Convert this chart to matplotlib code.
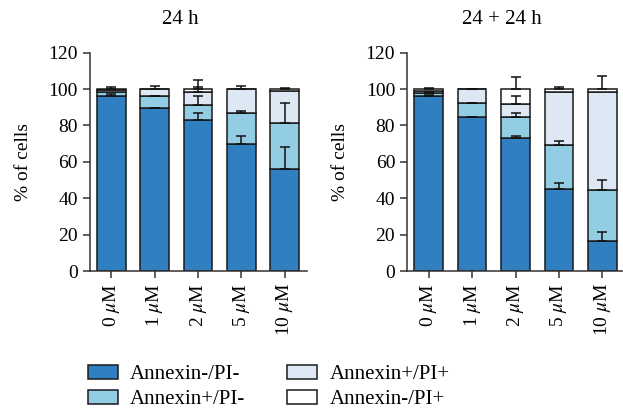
import matplotlib
matplotlib.use("Agg")
import matplotlib.pyplot as plt
import numpy as np
from matplotlib.patches import Patch

plt.rcParams['font.family'] = ['Liberation Serif', 'DejaVu Serif']
plt.rcParams['mathtext.fontset'] = 'stix'

categories = ["0 $\\mu$M", "1 $\\mu$M", "2 $\\mu$M", "5 $\\mu$M", "10 $\\mu$M"]
series_names = ["Annexin-/PI-", "Annexin+/PI-", "Annexin+/PI+", "Annexin-/PI+"]
colors = ["#2F7FC1", "#92CDE3", "#DEE8F4", "#FFFFFF"]
titles = ["24 h", "24 + 24 h"]

# 24 h
h24_aneg_pineg = [96.0, 89.4, 83.0, 70.0, 56.3]
h24_apos_pineg = [2.5, 6.6, 8.2, 17.0, 25.0]
h24_apos_pipos = [0.8, 4.0, 7.3, 13.0, 17.7]
h24_aneg_pipos = [0.7, 0.0, 1.5, 0.0, 1.0]
h24_err_aneg_pineg = [1.2, 0.4, 3.8, 4.0, 12.1]
h24_err_apos_pineg = [0.0, 0.3, 5.1, 1.2, 10.8]
h24_err_apos_pipos = [0.0, 0.0, 2.8, 0.0, 0.0]
h24_err_aneg_pipos = [1.0, 1.8, 5.0, 1.8, 0.5]

# 24 + 24 h
h48_aneg_pineg = [96.0, 84.5, 73.0, 45.0, 16.7]
h48_apos_pineg = [2.0, 7.8, 11.8, 24.0, 28.0]
h48_apos_pipos = [0.7, 7.7, 6.9, 29.5, 53.8]
h48_aneg_pipos = [1.3, 0.0, 8.3, 1.5, 1.5]
h48_err_aneg_pineg = [0.8, 0.3, 1.2, 3.3, 5.0]
h48_err_apos_pineg = [0.5, 0.3, 2.0, 2.7, 5.4]
h48_err_apos_pipos = [0.0, 0.0, 4.6, 0.0, 0.0]
h48_err_aneg_pipos = [0.6, 0.3, 6.5, 1.0, 7.4]

panels = [
    ([h24_aneg_pineg, h24_apos_pineg, h24_apos_pipos, h24_aneg_pipos],
     [h24_err_aneg_pineg, h24_err_apos_pineg, h24_err_apos_pipos, h24_err_aneg_pipos]),
    ([h48_aneg_pineg, h48_apos_pineg, h48_apos_pipos, h48_aneg_pipos],
     [h48_err_aneg_pineg, h48_err_apos_pineg, h48_err_apos_pipos, h48_err_aneg_pipos]),
]

W, H = 623, 411
fig = plt.figure(figsize=(W / 100, H / 100), dpi=100)
fs_tick = 14
fs_text = 15
axes_rects = [
    (89.5 / W, (H - 271) / H, 217 / W, 218.3 / H),
    (407 / W, (H - 271) / H, 217 / W, 218.3 / H),
]
title_x = [180 / W, 502 / W]

x = np.arange(len(categories))
for i, (vals, errs) in enumerate(panels):
    ax = fig.add_axes(axes_rects[i])
    bottom = np.zeros(len(categories))
    for v, e, c in zip(vals, errs, colors):
        v = np.array(v)
        ax.bar(x, v, width=0.66, bottom=bottom, color=c, edgecolor="#1a1a1a",
               linewidth=1.1, zorder=2)
        top = bottom + v
        e = np.array(e)
        mask = e > 0
        ax.errorbar(x[mask], top[mask], yerr=[np.zeros(mask.sum()), e[mask]],
                    fmt="none", ecolor="#111111", elinewidth=1.1, capsize=3.5,
                    capthick=1.1, zorder=3)
        bottom = top
    ax.set_xlim(-0.5, 4.5)
    ax.set_ylim(0, 120)
    ax.set_yticks(np.arange(0, 121, 20))
    ax.set_xticks(x)
    ax.set_xticklabels(categories, rotation=90, fontsize=fs_tick)
    ax.tick_params(axis='y', labelsize=fs_tick, length=5, width=1.1, direction='out',
                   colors="#333333", labelcolor="black")
    ax.tick_params(axis='x', length=5, width=1.1, direction='out',
                   colors="#333333", labelcolor="black")
    for s in ["top", "right"]:
        ax.spines[s].set_visible(False)
    for s in ["left", "bottom"]:
        ax.spines[s].set_linewidth(1.1)
        ax.spines[s].set_color("#333333")
    ax.set_ylabel("% of cells", fontsize=fs_tick)
    ax.yaxis.set_label_coords(-0.265, 0.5)
    fig.text(title_x[i], 1 - 20 / H, titles[i], ha="center", va="center", fontsize=fs_text)

handles = [Patch(facecolor=c, edgecolor="#1a1a1a", linewidth=1.1) for c in colors]
fig.legend(handles, series_names, loc="upper left", bbox_to_anchor=(73 / W, 1 - 350 / H),
           ncol=2, frameon=False, fontsize=fs_text, handlelength=1.45, handleheight=0.7,
           handletextpad=0.6, labelspacing=0.27, columnspacing=2.0, borderpad=0.2)

fig.savefig("out.png", dpi=100)
